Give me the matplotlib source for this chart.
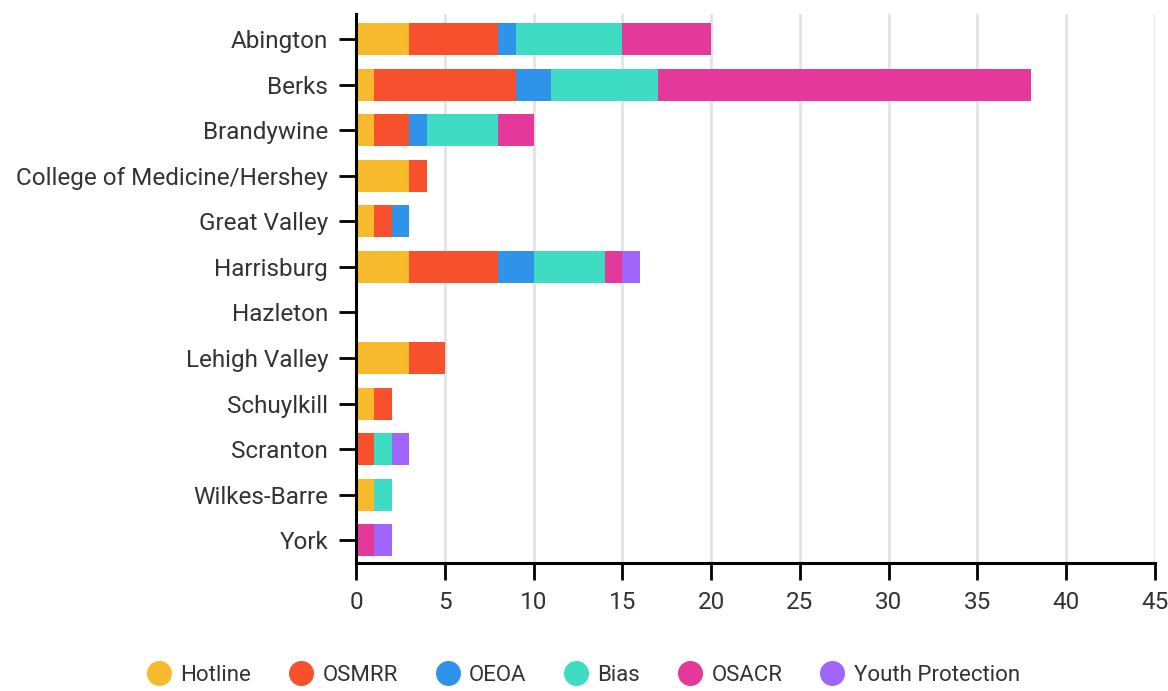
#!/usr/bin/python3
# coding: utf-8

import numpy as np
import matplotlib
matplotlib.use('Agg')
import matplotlib.pyplot as plt
from matplotlib.lines import Line2D

campuses = ['Abington', 'Berks', 'Brandywine', 'College of Medicine/Hershey',
            'Great Valley', 'Harrisburg', 'Hazleton', 'Lehigh Valley',
            'Schuylkill', 'Scranton', 'Wilkes-Barre', 'York']

series_names = ['Hotline', 'OSMRR', 'OEOA', 'Bias', 'OSACR', 'Youth Protection']

hotline = [3, 1, 1, 3, 1, 3, 0, 3, 1, 0, 1, 0]
osmrr = [5, 8, 2, 1, 1, 5, 0, 2, 1, 1, 0, 0]
oeoa = [1, 2, 1, 0, 1, 2, 0, 0, 0, 0, 0, 0]
bias = [6, 6, 4, 0, 0, 4, 0, 0, 0, 1, 1, 0]
osacr = [5, 21, 2, 0, 0, 1, 0, 0, 0, 0, 0, 1]
youth = [0, 0, 0, 0, 0, 1, 0, 0, 0, 1, 0, 1]

colors = ['#F6BA2C', '#F7502D', '#3093EA', '#3DDCC3', '#E4399A', '#A066FB']

x_ticks = [0, 5, 10, 15, 20, 25, 30, 35, 40, 45]


def main():
    plt.rcParams['font.family'] = ['Roboto', 'DejaVu Sans']
    text_color = '#333333'

    fig = plt.figure(figsize=(11.68, 6.91), dpi=100)
    ax = fig.add_axes([0.3048, 0.1852, 0.6841, 0.7945])

    data = [hotline, osmrr, oeoa, bias, osacr, youth]
    y = np.arange(len(campuses))
    left = np.zeros(len(campuses))
    for name, vals, col in zip(series_names, data, colors):
        vals = np.array(vals, dtype=float)
        ax.barh(y, vals, left=left, height=0.7, color=col, label=name, zorder=3)
        left += vals

    ax.set_ylim(11.5, -0.55)
    ax.set_xlim(0, 45)
    ax.set_yticks(y)
    ax.set_yticklabels(campuses)
    ax.set_xticks(x_ticks)

    for xv in x_ticks[1:]:
        ax.axvline(xv, color='#e3e3e3', linewidth=2, zorder=1)

    for s in ['top', 'right']:
        ax.spines[s].set_visible(False)
    for s in ['left', 'bottom']:
        ax.spines[s].set_linewidth(2.2)
        ax.spines[s].set_color('black')
        ax.spines[s].set_zorder(4)

    ax.tick_params(axis='y', length=12, width=2, pad=8, labelsize=17.5,
                   labelcolor=text_color)
    ax.tick_params(axis='x', length=12, width=2, pad=8, labelsize=17.5,
                   labelcolor=text_color)

    handles = [Line2D([0], [0], marker='o', linestyle='none', markersize=17,
                      markerfacecolor=c, markeredgecolor=c) for c in colors]
    fig.legend(handles, series_names, loc='lower center', bbox_to_anchor=(0.5, -0.022),
               ncol=6, frameon=False, fontsize=16, labelcolor=text_color,
               handlelength=1.0, handletextpad=0.45, columnspacing=1.75)

    plt.savefig('out.png', dpi=100)


if __name__ == '__main__':
    main()
